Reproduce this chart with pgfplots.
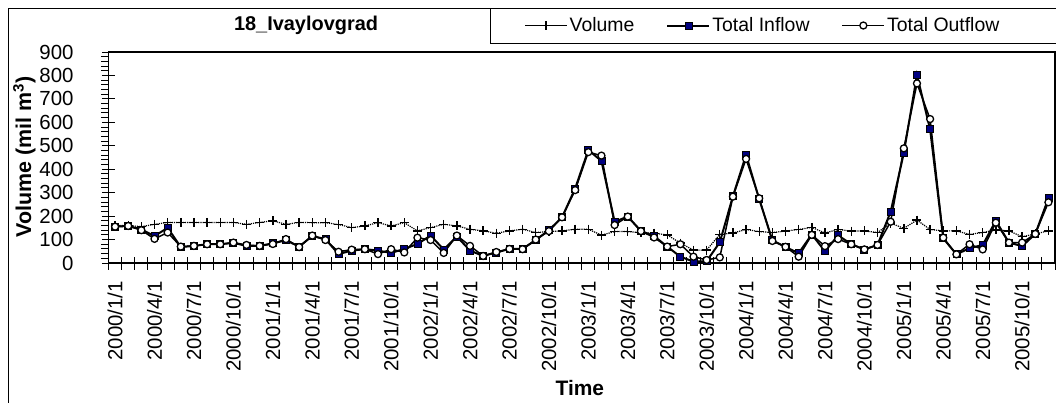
\documentclass[border=0pt]{standalone}
\usepackage{fontspec}
\setmainfont{Liberation Sans}
\usepackage{pgfplots}
\pgfplotsset{compat=1.18}
\usepackage{pgfplotstable}
\definecolor{navy}{RGB}{0,0,128}

% monthly values, 2000/1/1 .. 2005/12/1 (i = month index)
\pgfplotstableread{
i  vol  in   out
0  160  155  155
1  160  158  158
2  155  143  140
3  165  115  103
4  173  150  130
5  173  68   70
6  173  73   73
7  173  80   80
8  173  80   80
9  173  86   87
10 165  73   77
11 173  73   73
12 180  84   81
13 165  97   102
14 173  70   68
15 172  115  117
16 172  102  98
17 164  38   48
18 151  53   57
19 158  59   59
20 172  53   38
21 158  43   59
22 172  60   45
23 137  81   108
24 151  117  98
25 165  58   43
26 158  113  117
27 144  53   73
28 137  30   30
29 127  45   47
30 137  60   60
31 144  60   59
32 130  98   100
33 134  140  136
34 137  195  195
35 144  318  311
36 144  482  473
37 119  435  458
38 134  176  162
39 134  198  198
40 129  137  136
41 127  115  109
42 120  70   70
43 85   27   80
44 55   6    27
45 55   8    13
46 122  88   24
47 128  285  283
48 143  461  444
49 134  272  276
50 130  97   94
51 136  68   69
52 143  42   27
53 152  122  120
54 128  50   72
55 143  118  102
56 136  80   80
57 137  58   58
58 130  77   77
59 170  219  176
60 148  469  489
61 183  802  766
62 143  570  614
63 137  105  108
64 137  37   37
65 122  63   80
66 130  77   58
67 141  180  172
68 137  87   87
69 112  72   87
70 124  124  124
71 137  276  259
}\datatable

\begin{document}
\begin{tikzpicture}
\path[use as bounding box] (0bp,0bp) rectangle (1056bp,-403bp);
\draw[line width=1bp] (8bp,-403bp) -- (8bp,-8bp) -- (1056bp,-8bp);
\draw[line width=0.8bp] (490bp,-8bp) -- (490bp,-43bp) -- (1056bp,-43bp);
\begin{axis}[
  at={(108.5bp,-263bp)}, anchor=south west,
  scale only axis, width=946.5bp, height=211bp,
  xmin=-0.5, xmax=71.5, ymin=0, ymax=900,
  axis line style={line width=1.5bp},
  tick style={black, line width=1bp},
  tick align=center,
  major tick length=13bp, minor tick length=7bp,
  xtick pos=bottom, ytick pos=left,
  ytick={0,100,...,900}, minor y tick num=4,
  minor y tick style={xshift=-3.5bp},
  % ticks sit between months, labels every third month
  xtick={-0.5,0.5,...,71.5},
  xticklabels={2000/1/1,,,2000/4/1,,,2000/7/1,,,2000/10/1,,,2001/1/1,,,2001/4/1,,,2001/7/1,,,2001/10/1,,,2002/1/1,,,2002/4/1,,,2002/7/1,,,2002/10/1,,,2003/1/1,,,2003/4/1,,,2003/7/1,,,2003/10/1,,,2004/1/1,,,2004/4/1,,,2004/7/1,,,2004/10/1,,,2005/1/1,,,2005/4/1,,,2005/7/1,,,2005/10/1,,,},
  /pgf/number format/assume math mode=true,
  xticklabel style={font=\fontsize{20.5}{24}\selectfont, xshift=6.57bp, yshift=-8bp, rotate=90, anchor=east},
  yticklabel style={font=\fontsize{20.5}{24}\selectfont, xshift=-25bp},
  title={18\_Ivaylovgrad},
  title style={font=\bfseries\fontsize{20}{24}\selectfont, at={(rel axis cs:0.2087,1.099)}, anchor=center},
  xlabel={Time},
  ylabel={Volume (mil m\textsuperscript{3})},
  every axis x label/.style={at={(rel axis cs:0.498,-0.592)}, anchor=center, font=\bfseries\fontsize{21}{25}\selectfont},
  every axis y label/.style={at={(rel axis cs:-0.0888,0.502)}, rotate=90, anchor=center, font=\bfseries\fontsize{21.5}{25}\selectfont},
  legend columns=3,
  legend style={at={(rel axis cs:0.6915,1.1256)}, anchor=center, draw=none, fill=none,
    font=\fontsize{19.5}{23}\selectfont,
    /tikz/every even column/.append style={column sep=30bp}},
  legend image code/.code={\draw[mark repeat=2,mark phase=2] plot coordinates {(0bp,0bp) (21bp,0bp) (42bp,0bp)};},
]
\addplot[black, densely dotted, line width=1.2bp, mark=+, mark size=4.5bp, mark options={solid, line width=1.4bp},
  legend image code/.code={\draw[solid, line width=1bp, mark repeat=2, mark phase=2] plot coordinates {(0bp,0bp) (21bp,0bp) (42bp,0bp)};}]
  table[x=i, y=vol] {\datatable};
\addlegendentry{Volume}
\addplot[black, line width=2bp, mark=square*, mark size=3.5bp, mark options={fill=navy, draw=black, line width=0.8bp}]
  table[x=i, y=in] {\datatable};
\addlegendentry{Total Inflow}
\addplot[black, line width=1.5bp, mark=*, mark size=3.5bp, mark options={fill=white, draw=black, line width=1.3bp}]
  table[x=i, y=out] {\datatable};
\addlegendentry{Total Outflow}
\end{axis}
\end{tikzpicture}
\end{document}
